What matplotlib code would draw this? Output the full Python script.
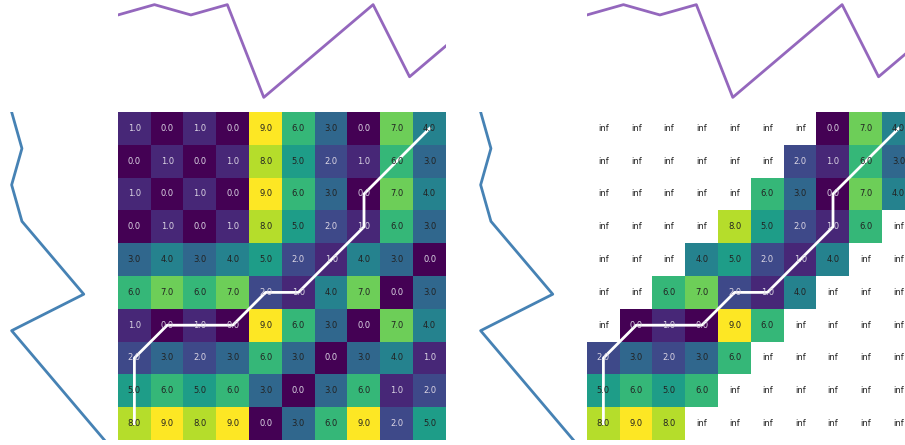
import numpy as np
import matplotlib
matplotlib.use("Agg")
from matplotlib import pyplot as plt

# series
s_top = [8, 9, 8, 9, 0, 3, 6, 9, 2, 5]     # columns (purple, top)
s_left = [0, 3, 6, 9, 2, 5, 8, 9, 8, 9]    # rows, bottom to top (blue, left)
path = [(0, 0), (1, 0), (2, 0), (3, 1), (3, 2), (3, 3), (4, 4),
        (4, 5), (5, 6), (6, 7), (7, 7), (8, 8), (9, 9)]
window = 2

W, H = 905, 445


def px_axes(fig, x0, y0, w, h):
    # pixel box (from top-left) -> figure fraction
    return fig.add_axes([x0 / W, 1 - (y0 + h) / H, w / W, h / H])


def draw_panel(fig, dist, off):
    n_rows, n_cols = dist.shape

    ax_top = px_axes(fig, off + 118, 0, 328, 102)
    ax_top.plot(np.arange(n_cols), s_top, color='tab:purple', lw=2)
    ax_top.set_xlim(0, n_cols - 1)
    ax_top.axis('off')

    ax_left = px_axes(fig, off + 7, 112, 102, 328)
    ax_left.plot(s_left, np.arange(n_rows), color='steelblue', lw=2)
    ax_left.set_ylim(0, n_rows - 1)
    ax_left.invert_xaxis()
    ax_left.axis('off')

    ax = px_axes(fig, off + 118, 112, 328, 328)
    shown = np.where(np.isinf(dist), np.nan, dist)
    ax.imshow(shown, cmap='viridis', vmin=0, vmax=9, origin='lower',
              aspect='auto', interpolation='nearest')
    for i in range(n_rows):
        for j in range(n_cols):
            v = dist[i, j]
            txt = 'inf' if np.isinf(v) else f'{v:.1f}'
            col = '#dcd6e4' if v < 2.5 else '#222222'
            ax.text(j, i, txt, ha='center', va='center', fontsize=6, color=col)
    pi = [p[0] for p in path]
    pj = [p[1] for p in path]
    ax.plot(pj, pi, color='white', lw=2)
    ax.set_xlim(-0.5, n_cols - 0.5)
    ax.set_ylim(-0.5, n_rows - 0.5)
    ax.axis('off')


if __name__ == '__main__':
    dist = np.abs(np.subtract.outer(np.array(s_left, float), np.array(s_top, float)))

    banded = dist.copy()
    ii, jj = np.indices(banded.shape)
    banded[np.abs(ii - jj) > window] = np.inf

    fig = plt.figure(figsize=(W / 100, H / 100), dpi=100)
    draw_panel(fig, dist, 0)
    draw_panel(fig, banded, 469)
    fig.savefig('out.png', dpi=100)
